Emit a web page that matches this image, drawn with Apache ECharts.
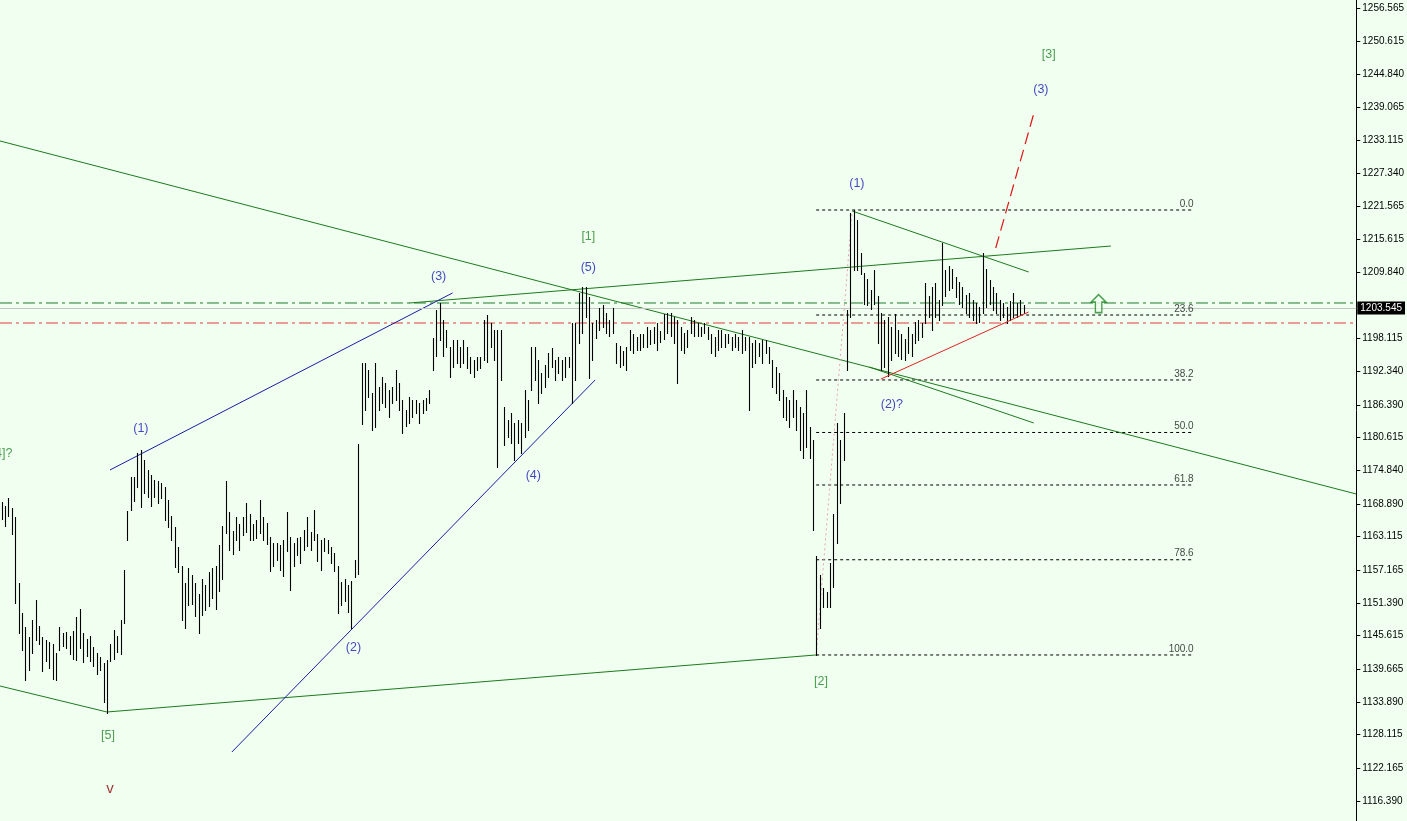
<!DOCTYPE html>
<html><head><meta charset="utf-8">
<script src="https://cdn.jsdelivr.net/npm/echarts@6/dist/echarts.min.js"></script>
<style>html,body{margin:0;padding:0;background:#f0fff0;}#c{width:1407px;height:821px;}</style>
</head><body><div id="c"></div>
<script>
// Price axis tick labels (right scale)
const yTicks = [1256.565,1250.615,1244.840,1239.065,1233.115,1227.340,1221.565,1215.615,1209.840,1198.115,1192.340,1186.390,1180.615,1174.840,1168.890,1163.115,1157.165,1151.390,1145.615,1139.665,1133.890,1128.115,1122.165,1116.390];
const yMin = 1112.85, yMax = 1257.98;
const barSlots = 399;

// Bar highs / lows (one bar per index)
const highs = [1169.3,1168.6,1169.9,1168.1,1166.6,1154.9,1149.6,1147.1,1145.4,1148.4,
1151.9,1147.3,1145.4,1144.8,1144.5,1144.1,1142.6,1147.2,1146.0,1146.3,
1145.5,1146.5,1148.9,1150.4,1146.0,1145.0,1145.5,1143.6,1142.6,1141.8,
1140.8,1141.3,1144.1,1146.6,1145.5,1148.3,1157.3,1167.7,1173.6,1173.7,
1177.9,1178.5,1176.6,1174.9,1174.1,1173.1,1172.9,1172.6,1171.9,1169.6,
1166.7,1164.9,1161.3,1158.0,1154.9,1157.6,1156.3,1155.0,1153.0,1155.6,
1154.5,1156.9,1157.5,1157.9,1161.7,1165.0,1173.0,1167.4,1164.2,1166.6,
1165.3,1166.6,1169.0,1167.2,1165.4,1166.1,1169.6,1166.6,1165.6,1163.1,
1162.0,1162.0,1161.7,1162.5,1167.5,1163.0,1162.0,1162.8,1163.0,1164.3,
1166.6,1164.0,1167.9,1163.6,1162.5,1162.8,1162.5,1161.3,1160.3,1158.0,
1155.1,1155.6,1154.6,1155.3,1159.0,1179.5,1193.8,1193.8,1192.6,1188.5,
1193.8,1189.6,1191.3,1190.2,1189.0,1189.6,1192.6,1190.2,1187.3,1185.5,
1187.8,1187.3,1187.2,1186.7,1187.3,1187.7,1189.0,1198.2,1203.2,1204.4,
1201.4,1199.6,1196.7,1197.9,1197.8,1196.7,1197.9,1196.6,1194.9,1194.3,
1194.9,1194.8,1201.4,1202.3,1200.9,1199.6,1199.6,1199.6,1186.0,1183.7,
1185.0,1183.2,1183.7,1183.2,1189.0,1187.3,1196.7,1196.7,1194.3,1192.0,
1193.5,1195.5,1196.5,1194.3,1194.9,1194.3,1194.9,1194.9,1200.8,1200.8,
1206.2,1207.2,1207.3,1205.5,1200.8,1201.4,1203.6,1204.0,1202.6,1201.4,
1203.6,1197.3,1196.9,1196.0,1196.7,1199.6,1199.0,1198.4,1199.0,1198.9,
1200.2,1199.6,1200.2,1200.8,1199.5,1202.5,1202.6,1202.6,1201.9,1201.4,
1200.2,1199.1,1199.6,1202.0,1201.4,1200.8,1200.2,1200.8,1200.2,1199.0,
1198.4,1199.6,1199.6,1199.0,1199.0,1198.4,1199.0,1198.4,1199.6,1198.4,
1198.4,1197.3,1197.9,1197.4,1197.9,1197.9,1196.7,1194.3,1193.1,1192.0,
1189.0,1187.8,1187.3,1189.0,1187.3,1186.0,1185.0,1189.0,1182.5,1180.2,
1159.7,1156.3,1154.0,1153.4,1158.4,1167.2,1183.2,1180.2,1185.0,1203.2,
1220.3,1220.9,1219.1,1213.3,1209.8,1208.6,1206.7,1210.2,1205.6,1202.6,
1201.4,1202.0,1200.2,1202.5,1199.6,1198.9,1198.0,1200.2,1199.0,1201.0,
1201.4,1200.8,1208.0,1205.6,1207.3,1208.0,1205.0,1215.0,1210.2,1211.0,
1210.5,1209.0,1208.2,1207.3,1205.8,1206.2,1205.0,1204.4,1203.7,1213.3,
1210.5,1208.5,1207.3,1206.2,1205.0,1204.4,1203.7,1204.8,1206.2,1204.4,
1204.9,1204.0];
const lows = [1166.2,1165.0,1166.8,1163.5,1151.4,1146.1,1143.0,1137.8,1139.5,1142.5,
1144.9,1144.2,1139.4,1141.2,1139.9,1137.9,1137.7,1143.1,1143.8,1143.4,
1142.4,1141.5,1141.3,1143.5,1141.0,1142.1,1141.2,1140.2,1138.9,1139.6,
1133.9,1131.9,1141.2,1141.5,1142.7,1142.4,1147.9,1162.5,1167.8,1169.5,
1171.9,1168.4,1170.9,1170.2,1168.6,1170.1,1169.1,1170.0,1166.1,1164.9,
1162.5,1157.8,1156.8,1148.4,1147.0,1151.0,1151.2,1149.0,1146.0,1149.3,
1150.2,1150.9,1152.3,1150.4,1153.5,1155.7,1163.8,1160.7,1160.0,1162.5,
1160.7,1163.4,1163.9,1162.5,1162.6,1162.9,1163.7,1162.5,1161.9,1157.0,
1158.0,1159.0,1157.3,1156.2,1160.6,1153.7,1158.0,1159.9,1158.5,1160.8,
1161.4,1160.8,1162.5,1158.8,1157.2,1160.5,1160.2,1158.4,1157.0,1149.6,
1151.0,1151.7,1149.8,1147.0,1155.9,1156.5,1183.0,1185.5,1187.8,1182.0,
1182.5,1185.5,1186.7,1186.0,1184.3,1186.7,1187.3,1185.5,1181.4,1182.6,
1183.2,1184.3,1185.0,1183.2,1185.0,1185.5,1186.7,1192.6,1195.0,1197.9,
1195.0,1196.6,1191.3,1193.1,1193.8,1193.1,1193.8,1193.0,1192.0,1191.3,
1192.6,1193.0,1194.3,1194.0,1196.6,1194.3,1175.4,1190.8,1179.4,1180.7,
1179.7,1176.7,1179.7,1177.9,1180.7,1182.0,1189.0,1190.8,1186.7,1188.5,
1189.6,1191.3,1193.1,1190.8,1192.0,1190.8,1191.3,1193.1,1186.7,1190.8,
1197.3,1199.1,1202.0,1191.2,1194.3,1198.2,1199.6,1200.2,1199.1,1198.5,
1199.1,1193.8,1193.1,1193.5,1192.6,1196.1,1195.5,1196.1,1196.1,1196.7,
1196.7,1197.2,1197.3,1196.1,1197.5,1198.0,1199.1,1198.5,1197.3,1190.2,
1196.1,1195.5,1196.7,1199.1,1198.5,1198.5,1198.5,1199.1,1198.0,1195.5,
1195.0,1196.1,1196.7,1196.7,1197.3,1196.1,1196.7,1196.1,1195.5,1196.1,
1185.5,1193.1,1193.8,1195.0,1193.8,1195.5,1193.8,1189.6,1188.5,1187.2,
1184.3,1183.7,1182.5,1184.3,1182.0,1178.5,1177.0,1179.0,1177.0,1164.3,
1142.2,1147.0,1150.7,1150.6,1150.6,1154.2,1162.0,1169.0,1176.7,1192.6,
1201.9,1210.3,1210.3,1209.5,1204.3,1204.0,1203.4,1204.3,1197.3,1192.6,
1193.1,1191.5,1194.3,1195.5,1195.0,1194.6,1194.3,1195.5,1195.0,1197.3,
1197.9,1198.4,1200.8,1202.0,1199.6,1202.0,1201.4,1204.0,1205.6,1206.7,
1207.0,1205.5,1204.3,1203.7,1202.6,1202.0,1201.4,1200.8,1201.0,1202.6,
1203.7,1204.3,1203.2,1202.6,1201.4,1201.9,1200.8,1201.4,1202.0,1201.9,
1202.3,1202.6];

const bidPrice = 1203.545;
const greenLevel = 1204.42;
const redLevel = 1200.88;

// Fibonacci retracement of the [2] -> (1) swing
const fibHigh = 1220.86, fibLow = 1142.2;
const fibPcts = [0.0, 23.6, 38.2, 50.0, 61.8, 78.6, 100.0];
const fibStart = 239.9, fibEnd = 351.1;

// Trend lines (bar index, price)
const greenLines = [
  [[-0.5,1233.06],[399,1170.65]],
  [[-0.5,1136.71],[31,1132.12],[239.9,1142.2]],
  [[120.1,1204.42],[326.7,1214.49]],
  [[255.5,1193.11],[304.0,1183.21]],
  [[250.5,1220.68],[302.5,1209.90]]
];
const blueLines = [
  [[31.9,1174.90],[132.8,1206.19]],
  [[67.8,1125.05],[174.8,1190.81]]
];
const redLine = [[259.0,1190.98],[302.5,1202.83]];
const redProjection = [[292.8,1214.14],[304.3,1238.54]];
const fibSwing = [[239.9,1142.2],[250.5,1220.68]];

// Wave labels: text, bar index, price, colour group
const waveText  = ['[4]?','(1)','[5]','v','(2)','(3)','(4)','(5)','[1]','[2]','(1)','(2)?','(3)','[3]'];
const waveX     = [0.1,41.0,31.3,31.9,103.6,128.7,156.6,172.8,172.8,241.3,251.9,262.2,306.1,308.4];
const waveY     = [1177.73,1182.15,1127.88,1118.51,1143.43,1209.01,1173.84,1210.61,1216.09,1137.42,1225.45,1186.39,1242.07,1248.26];
const waveGroup = ['g','b','g','r','b','b','b','b','g','g','b','b','b','g'];
const arrowPoint = [323.1, 1204.3];

const C = {b:'#1616b4', g:'#23862a', r:'#8b0000'};
const FONT = 'Liberation Sans';

const chart = echarts.init(document.getElementById('c'));
const series = [];

series.push({
  type:'custom', silent:true, z:5,
  data: highs.map((h,i)=>[i,h,lows[i]]),
  renderItem(params, api){
    const a = api.coord([api.value(0), api.value(1)]);
    const b = api.coord([api.value(0), api.value(2)]);
    const x = Math.round(a[0]) + 0.5;
    return {type:'line', shape:{x1:x,y1:Math.round(a[1]),x2:x,y2:Math.round(b[1])+1},
      style:{stroke:'#000', lineWidth:1.1}};
  },
  markLine:{
    symbol:'none', silent:true, animation:false,
    data:[{yAxis:bidPrice}],
    lineStyle:{color:'#c4c4c4', type:'solid', width:1},
    label:{position:'end', formatter:bidPrice.toFixed(3), color:'#fff', backgroundColor:'#000',
      padding:[2,3,1,3], fontSize:10, fontFamily:FONT, distance:1}
  }
});

function addLine(data, color, type, width, z){
  series.push({type:'line', data, showSymbol:false, silent:true, z:z||3,
    lineStyle:{color, type, width:width||1}, animation:false});
}
addLine([[-0.5,greenLevel],[barSlots,greenLevel]], '#1f7a2f', [12,4,3,4], 1, 2);
addLine([[-0.5,redLevel],[barSlots,redLevel]], '#e03a3a', [12,4,3,4], 1, 2);
greenLines.forEach(l=>addLine(l,'#1d7a1d','solid',1,4));
blueLines.forEach(l=>addLine(l,'#1c1ca6','solid',1,4));
addLine(redLine,'#e02424','solid',1,6);
addLine(redProjection,'#e01414',[12,6],1.2,6);
addLine(fibSwing,'#e8a2b2',[2,3],1,4);
fibPcts.forEach(p=>{
  const v = fibHigh - p/100*(fibHigh-fibLow);
  addLine([[fibStart,v],[fibEnd,v]],'#000',[3,3],1,3);
});

series.push({
  type:'scatter', symbolSize:0, silent:true, z:7,
  data: fibPcts.map(p=>({value:[fibEnd, fibHigh - p/100*(fibHigh-fibLow)], name:p.toFixed(1)})),
  label:{show:true, formatter:'{b}', position:[0,-1], align:'right', verticalAlign:'bottom',
    color:'#111', fontSize:10, fontFamily:FONT}
});

series.push({
  type:'scatter', symbolSize:0, silent:true, z:7,
  data: waveText.map((t,i)=>({value:[waveX[i],waveY[i]], name:t,
    label:{color:C[waveGroup[i]], fontSize: waveGroup[i]==='r'?15:12.5}})),
  label:{show:true, formatter:'{b}', position:[0,0], align:'center', verticalAlign:'middle',
    fontFamily:FONT, fontSize:12.5}
});

series.push({
  type:'scatter', silent:true, z:8,
  data:[arrowPoint],
  symbol:'path://M7,0 L14,7 L10,7 L10,17 L4,17 L4,7 L0,7 Z',
  symbolSize:[15,18],
  itemStyle:{color:'#f0fff0', borderColor:'#23862a', borderWidth:1.5}
});

chart.setOption({
  animation:false,
  backgroundColor:'#f0fff0',
  grid:{left:0, right:49, top:0, bottom:0},
  xAxis:{type:'value', min:-0.5, max:barSlots, show:false},
  yAxis:{type:'value', position:'right', min:yMin, max:yMax, scale:true,
    splitLine:{show:false},
    axisLine:{show:true, onZero:false, lineStyle:{color:'#000', width:1}},
    axisTick:{show:true, length:4, customValues:yTicks, lineStyle:{color:'#000'}},
    axisLabel:{show:true, customValues:yTicks, formatter:v=>v.toFixed(3), color:'#000',
      fontSize:10, fontFamily:FONT, margin:6}
  },
  series
});
</script></body></html>
